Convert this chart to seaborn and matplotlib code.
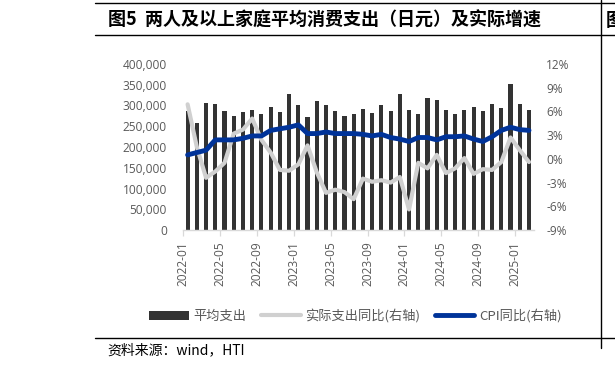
import numpy as np
import pandas as pd
import matplotlib
matplotlib.use("Agg")
import matplotlib.pyplot as plt
import seaborn as sns
from matplotlib.lines import Line2D
from matplotlib.patches import Patch
from matplotlib.ticker import FuncFormatter, MultipleLocator

# ---------------- data ----------------
months = ["2022-01", "2022-02", "2022-03", "2022-04", "2022-05", "2022-06",
          "2022-07", "2022-08", "2022-09", "2022-10", "2022-11", "2022-12",
          "2023-01", "2023-02", "2023-03", "2023-04", "2023-05", "2023-06",
          "2023-07", "2023-08", "2023-09", "2023-10", "2023-11", "2023-12",
          "2024-01", "2024-02", "2024-03", "2024-04", "2024-05", "2024-06",
          "2024-07", "2024-08", "2024-09", "2024-10", "2024-11", "2024-12",
          "2025-01", "2025-02"]
spending = [287000, 257000, 305000, 303000, 287000, 275000, 283500, 289000,
            279500, 296000, 285000, 327000, 301000, 271600, 311600, 301000,
            286000, 274700, 280000, 292000, 282700, 301000, 286000, 327700,
            289000, 278700, 318000, 313000, 290000, 279500, 290000, 296000,
            286700, 304000, 294000, 351800, 304000, 290000]
real_yoy = [6.9, 1.5, -2.4, -1.6, -0.5, 3.2, 3.7, 5.1, 2.4, 0.8, -1.4, -1.5,
            -0.7, 1.7, -1.7, -4.3, -3.9, -4.2, -5.1, -2.5, -2.9, -2.7, -3.0, -2.3,
            -6.4, -0.5, -1.2, 0.5, -1.8, -1.2, 0.1, -1.9, -1.3, -1.4, -0.4, 2.7,
            1.1, -0.4]
cpi_yoy = [0.5, 0.8, 1.1, 2.4, 2.4, 2.4, 2.6, 2.9, 2.9, 3.6, 3.8, 4.0,
           4.3, 3.2, 3.2, 3.4, 3.2, 3.2, 3.2, 3.1, 2.9, 3.1, 2.7, 2.5,
           2.2, 2.7, 2.7, 2.4, 2.8, 2.8, 2.9, 2.5, 2.2, 2.8, 3.6, 4.0,
           3.7, 3.6]
legend_labels = ["平均支出", "实际支出同比(右轴)", "CPI同比(右轴)"]
title = "图5  两人及以上家庭平均消费支出（日元）及实际增速"
source = "资料来源：wind，HTI"

# ---------------- style ----------------
sns.set_theme(style="white")
plt.rcParams["font.family"] = ["Open Sans", "Noto Sans CJK SC", "DejaVu Sans"]

BAR = "#333333"
GRAY = "#D0D0D0"
BLUE = "#003399"
TXT = "#595959"
AXC = "#D9D9D9"
W, H = 615, 368

df = pd.DataFrame({"month": months, "spend": spending, "real": real_yoy,
                   "cpi": cpi_yoy, "idx": np.arange(len(months))})

fig = plt.figure(figsize=(6.15, 3.68), dpi=100)
ax = fig.add_axes([183 / W, 1 - 230 / H, (533.6 - 183) / W, 166 / H])

sns.barplot(data=df, x="month", y="spend", ax=ax, color=BAR, saturation=1,
            width=0.45, edgecolor="none")
ax.set_ylim(0, 400000)
ax.yaxis.set_major_locator(MultipleLocator(50000))
ax.yaxis.set_major_formatter(FuncFormatter(lambda v, p: f"{v:,.0f}"))

ax2 = ax.twinx()
sns.lineplot(data=df, x="idx", y="real", ax=ax2, color=GRAY, lw=3.0,
             solid_joinstyle="round", solid_capstyle="round")
sns.lineplot(data=df, x="idx", y="cpi", ax=ax2, color=BLUE, lw=3.5,
             solid_joinstyle="round", solid_capstyle="round")
ax2.set_ylim(-9, 12)
ax2.yaxis.set_major_locator(MultipleLocator(3))
ax2.yaxis.set_major_formatter(FuncFormatter(lambda v, p: f"{v:.0f}%"))

n = len(months)
ax.set_xlim(-0.5, n - 0.5)
ax.set_xticks(np.arange(0, n, 4) - 0.5)
ax.set_xticklabels(months[::4], rotation=90)
for a in (ax, ax2):
    a.set_xlabel("")
    a.set_ylabel("")
    a.grid(False)
    for s in a.spines.values():
        s.set_visible(False)
ax.spines["bottom"].set_visible(True)
ax.spines["bottom"].set_color(AXC)
ax.spines["bottom"].set_linewidth(1.0)
ax.tick_params(axis="x", bottom=True, length=4, width=0.9, color=AXC,
               colors=TXT, labelsize=8.6, pad=4)
ax.tick_params(axis="x", labelcolor=TXT)
ax.tick_params(axis="y", left=False, length=0, labelsize=8.6, labelcolor=TXT, pad=11.5)
ax2.tick_params(axis="y", right=False, length=0, labelsize=8.6, labelcolor=TXT, pad=9)
ax2.set_xlim(-0.5, n - 0.5)

# legend
handles = [Patch(facecolor=BAR, edgecolor="none"),
           Line2D([], [], color=GRAY, lw=3.0),
           Line2D([], [], color=BLUE, lw=3.5)]
fig.legend(handles, legend_labels, loc="center", bbox_to_anchor=(355.5 / W, 1 - 316 / H),
           ncol=3, frameon=False, handlelength=3.0, handletextpad=0.35,
           columnspacing=1.1, labelcolor=TXT, prop={"family": ["Noto Sans CJK SC"], "size": 9.5})

# title, source and frame lines
fig.text(108 / W, 1 - 20 / H, title, fontsize=13, fontweight="bold",
         family=["Noto Sans CJK SC"], va="center", ha="left", color="black")
fig.text(606 / W, 1 - 20 / H, "图", fontsize=13, fontweight="bold",
         family=["Noto Sans CJK SC"], va="center", ha="left", color="black")
fig.text(107 / W, 1 - 350 / H, source, fontsize=10, family=["Noto Sans CJK SC"],
         va="center", ha="left", color="black")
for y in (2.5, 34.5, 337.8):
    fig.add_artist(Line2D([95 / W, 1], [1 - y / H, 1 - y / H], color="black", lw=1.0,
                          transform=fig.transFigure))
fig.add_artist(Line2D([600.5 / W, 600.5 / W], [1, 1 - 348 / H], color="black", lw=1.0,
                      transform=fig.transFigure))

fig.savefig("out.png", dpi=100)
